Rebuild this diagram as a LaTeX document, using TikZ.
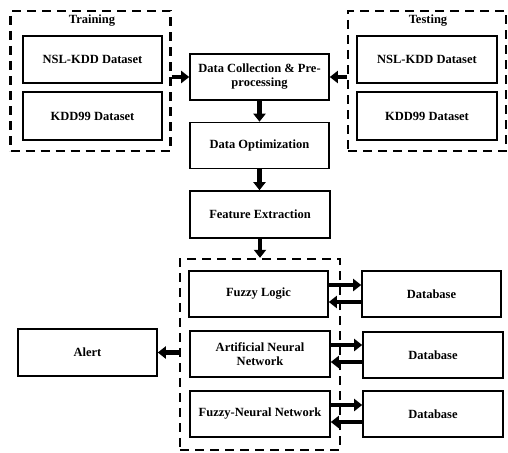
\documentclass[tikz,border=0pt]{standalone}
\usepackage{fontspec}
\setmainfont{Liberation Serif}
\usetikzlibrary{arrows.meta}
\begin{document}
\begin{tikzpicture}[x=1pt,y=-1pt,
  box/.style={draw,line width=1.6pt,inner sep=0pt,align=center,font=\bfseries\fontsize{12.5}{14}\selectfont},
  group/.style={draw,dashed,line width=2.4pt,dash pattern=on 9pt off 6pt,inner sep=0pt},
  lbl/.style={font=\bfseries\fontsize{12.5}{14}\selectfont,inner sep=0pt},
  arr/.style={line width=4.5pt,-{Triangle[width=12pt,length=8pt]}}]
\useasboundingbox (0,0) rectangle (508,452);
% groups
\node[group,minimum width=160pt,minimum height=140pt] (train) at (90.5,81) {};
\node[group,minimum width=158pt,minimum height=140pt] (test) at (427,81) {};
\node[group,minimum width=160pt,minimum height=191pt] (detect) at (260,354.5) {};
\node[lbl] (trainl) at (92,21) {Training};
\node[lbl] (testl) at (428,21) {Testing};
% training datasets
\node[box,minimum width=139pt,minimum height=47pt] (nsl1) at (92.5,59.5) {NSL-KDD Dataset};
\node[box,minimum width=139pt,minimum height=48pt] (kdd1) at (92.5,116) {KDD99 Dataset};
\node[box,minimum width=140pt,minimum height=47pt] (nsl2) at (427,59.5) {NSL-KDD Dataset};
\node[box,minimum width=140pt,minimum height=48pt] (kdd2) at (427,116) {KDD99 Dataset};
% main chain
\node[box,minimum width=139pt,minimum height=46pt] (dc) at (259.5,77) {Data Collection \& Pre-\\processing};
\node[box,minimum width=139pt,minimum height=46pt] (opt) at (259.5,145.5) {Data Optimization};
\node[box,minimum width=140pt,minimum height=47pt] (fe) at (260,214.5) {Feature Extraction};
% detection
\node[box,minimum width=139pt,minimum height=46pt] (fl) at (258.5,294) {Fuzzy Logic};
\node[box,minimum width=140pt,minimum height=46pt] (ann) at (260,354) {Artificial Neural\\Network};
\node[box,minimum width=140pt,minimum height=46pt] (fnn) at (260,414) {Fuzzy-Neural Network};
\node[box,minimum width=139pt,minimum height=46pt] (db1) at (431.5,294) {Database};
\node[box,minimum width=140pt,minimum height=46pt] (db2) at (433,355) {Database};
\node[box,minimum width=140pt,minimum height=46pt] (db3) at (433,414) {Database};
\node[box,minimum width=139pt,minimum height=47pt] (alert) at (87.5,352.5) {Alert};
% arrows
\draw[arr] (train.east |- dc.west) -- (dc.west);
\draw[arr] (test.west |- dc.east) -- (dc.east);
\draw[arr] (dc.south) -- (dc.south |- opt.north);
\draw[arr] (opt.south) -- (opt.south |- fe.north);
\draw[arr] (fe.south) -- (fe.south |- detect.north);
\draw[arr] ([yshift=9pt]fl.east) -- ([yshift=9pt]fl.east -| db1.west);
\draw[arr] ([yshift=-8pt]fl.east -| db1.west) -- ([yshift=-8pt]fl.east);
\draw[arr] ([yshift=9pt]ann.east) -- ([yshift=9pt]ann.east -| db2.west);
\draw[arr] ([yshift=-8pt]ann.east -| db2.west) -- ([yshift=-8pt]ann.east);
\draw[arr] ([yshift=9pt]fnn.east) -- ([yshift=9pt]fnn.east -| db3.west);
\draw[arr] ([yshift=-8pt]fnn.east -| db3.west) -- ([yshift=-8pt]fnn.east);
\draw[arr] (detect.west |- alert.east) -- (alert.east);
\end{tikzpicture}
\end{document}
